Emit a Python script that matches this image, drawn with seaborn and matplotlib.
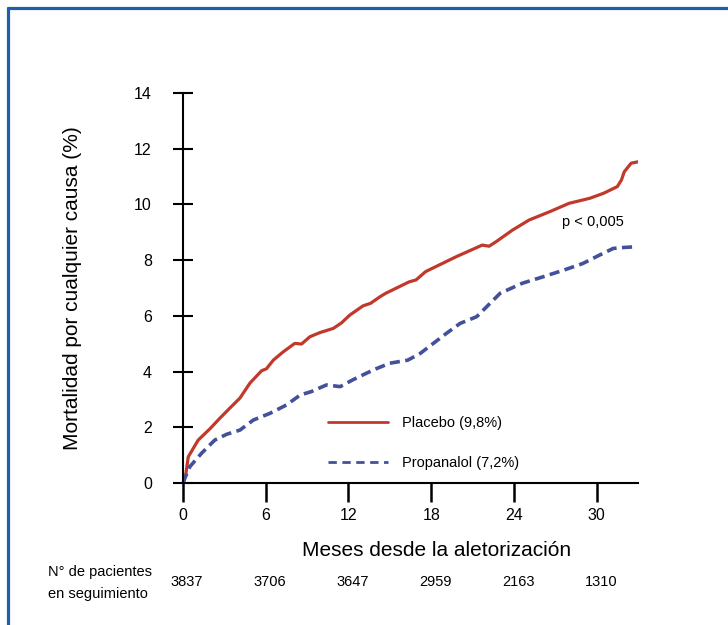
import pandas as pd
import matplotlib.pyplot as plt
import seaborn as sns
from matplotlib.lines import Line2D

# Data (months, mortality %)
placebo_m = [0, 0.2, 0.38, 1.1, 1.96, 2.68, 3.4, 4.13, 4.86, 5.7, 6.05, 6.55, 7.27, 8.1, 8.6,
             9.2, 9.93, 10.9, 11.5, 12.1, 13.06, 13.6, 14.3, 14.7, 16.4, 16.9, 17.6, 19.8,
             21.7, 22.2, 22.7, 23.9, 25.1, 26.6, 28.0, 29.5, 30.5, 31.5, 31.8, 32.0, 32.5, 33.0]
placebo_v = [0, 0.3, 0.94, 1.54, 1.95, 2.33, 2.69, 3.05, 3.59, 4.03, 4.1, 4.41, 4.71, 5.01, 4.99,
             5.25, 5.4, 5.55, 5.75, 6.03, 6.36, 6.45, 6.69, 6.81, 7.22, 7.29, 7.59, 8.12,
             8.54, 8.5, 8.66, 9.08, 9.44, 9.74, 10.04, 10.22, 10.4, 10.64, 10.88, 11.17, 11.48, 11.53]

propranolol_m = [0, 0.2, 0.5, 1.35, 2.3, 3.17, 4.13, 5.1, 6.3, 7.5, 8.5, 9.3, 10.4, 11.4, 12.3,
                 13.3, 14.0, 15.0, 16.3, 17.2, 19.1, 20.1, 21.3, 23.0, 24.6, 26.1, 27.6, 29.0,
                 30.2, 31.2, 32.1, 32.9]
propranolol_v = [0, 0.25, 0.59, 1.07, 1.54, 1.75, 1.9, 2.26, 2.5, 2.8, 3.16, 3.28, 3.52, 3.46, 3.7,
                 3.94, 4.1, 4.3, 4.41, 4.65, 5.37, 5.73, 5.97, 6.81, 7.17, 7.4, 7.64, 7.88,
                 8.18, 8.42, 8.46, 8.48]

x_ticks = [0, 6, 12, 18, 24, 30]
y_ticks = [0, 2, 4, 6, 8, 10, 12, 14]
at_risk = [3837, 3706, 3647, 2959, 2163, 1310]

df = pd.concat([
    pd.DataFrame({'mes': placebo_m, 'mort': placebo_v, 'grupo': 'Placebo (9,8%)'}),
    pd.DataFrame({'mes': propranolol_m, 'mort': propranolol_v, 'grupo': 'Propanalol (7,2%)'}),
])

sns.set_style("white")
plt.rcParams['font.family'] = ['Liberation Sans', 'DejaVu Sans']
plt.rcParams['text.color'] = 'black'
plt.rcParams['axes.labelcolor'] = 'black'
plt.rcParams['xtick.color'] = 'black'
plt.rcParams['ytick.color'] = 'black'

red = '#c0392b'
blue = '#43509a'

fig = plt.figure(figsize=(7.28, 6.25), dpi=100)
ax = fig.add_axes([0.2514, 0.2272, 0.625, 0.624])

sns.lineplot(data=df[df.grupo == 'Placebo (9,8%)'], x='mes', y='mort', color=red,
             linewidth=2.3, ax=ax, label='Placebo (9,8%)')
sns.lineplot(data=df[df.grupo == 'Propanalol (7,2%)'], x='mes', y='mort', color=blue,
             linewidth=2.6, ax=ax, label='Propanalol (7,2%)')
ax.lines[1].set_linestyle((0, (2.8, 1.5)))

ax.set_xlim(0, 33)
ax.set_ylim(0, 14)
ax.set_xticks(x_ticks)
ax.set_yticks(y_ticks)
ax.tick_params(axis='y', left=True, direction='inout', length=15, width=1.5, pad=15,
               labelsize=11.5)
ax.tick_params(axis='x', bottom=True, direction='out', length=14, width=1.8, pad=4,
               labelsize=11.5)
sns.despine(ax=ax)
for s in ['left', 'bottom']:
    ax.spines[s].set_linewidth(1.5)
    ax.spines[s].set_color('black')

ax.set_xlabel('Meses desde la aletorización', fontsize=15)
ax.set_ylabel('Mortalidad por cualquier causa (%)', fontsize=15)
ax.xaxis.set_label_coords(0.558, -0.149)
ax.yaxis.set_label_coords(-0.222, 0.5)

handles = [Line2D([], [], color=red, lw=2),
           Line2D([], [], color=blue, lw=2, linestyle=(0, (3, 2)))]
ax.legend(handles, ['Placebo (9,8%)', 'Propanalol (7,2%)'], frameon=False,
          loc='center left', bbox_to_anchor=(0.3187, 0.1026), borderpad=0,
          borderaxespad=0, handlelength=4.1, handletextpad=0.95,
          labelspacing=1.75, fontsize=10.5)

ax.text(27.46, 9.37, 'p < 0,005', fontsize=10.5, ha='left', va='center')

# patients at risk row
for m, n in zip(x_ticks, at_risk):
    ax.text(m + 0.3, -0.254, str(n), fontsize=10.5, ha='center', va='center',
            transform=ax.get_xaxis_transform())
fig.text(0.0659, 0.0848, 'N° de pacientes', fontsize=10.5, va='center')
fig.text(0.0659, 0.0496, 'en seguimiento', fontsize=10.5, va='center')

# blue frame (top and left edges)
fig.add_artist(Line2D([0.011, 1], [1 - 8 / 625, 1 - 8 / 625], color='#1f5fad', lw=2.3,
                      transform=fig.transFigure))
fig.add_artist(Line2D([0.011, 0.011], [0, 1 - 8 / 625], color='#1f5fad', lw=2.3,
                      transform=fig.transFigure))

fig.savefig('out.png', dpi=100)
